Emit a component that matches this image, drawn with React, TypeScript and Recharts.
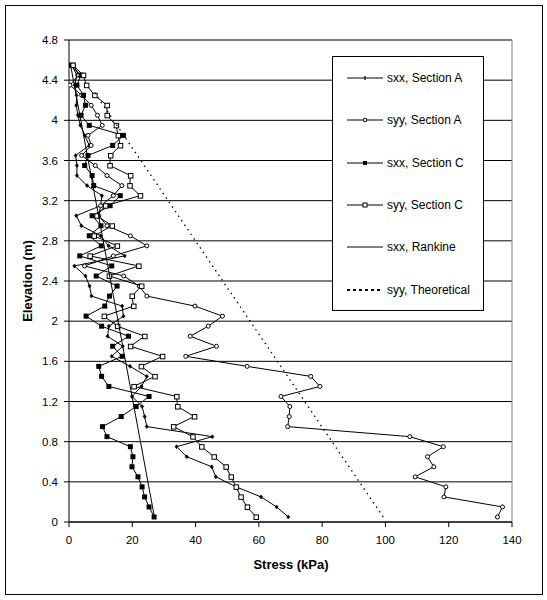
import React from "react";
import {
  ScatterChart,
  Scatter,
  XAxis,
  YAxis,
  CartesianGrid,
  ReferenceLine,
} from "recharts";

// Elevations (m) of the measurement points
const elevations = [
  0.05, 0.15, 0.25, 0.35, 0.45, 0.55, 0.65, 0.75, 0.85, 0.95,
  1.05, 1.15, 1.25, 1.35, 1.45, 1.55, 1.65, 1.75, 1.85, 1.95,
  2.05, 2.15, 2.25, 2.35, 2.45, 2.55, 2.65, 2.75, 2.85, 2.95,
  3.05, 3.15, 3.25, 3.35, 3.45, 3.55, 3.65, 3.75, 3.85, 3.95,
  4.05, 4.15, 4.25, 4.35, 4.45, 4.55,
];

// Stress (kPa) per series, bottom to top
const sxxSectionA = [
  69.3, 65.6, 60.7, 52.8, 46.4, 45.1, 37.2, 34.0, 45.3, 24.6,
  23.9, 23.1, 19.9, 22.9, 24.6, 19.3, 13.5, 17.0, 12.2, 12.6,
  17.2, 16.8, 7.1, 6.5, 5.2, 1.7, 17.6, 12.5, 10.0, 3.9,
  2.3, 10.0, 10.4, 5.7, 2.5, 2.5, 2.1, 6.4, 5.0, 3.6,
  2.8, 2.3, 2.4, 1.8, 2.5, 0.8,
];
const syySectionA = [
  135.4, 137.0, 118.5, 119.1, 109.4, 115.3, 113.3, 118.3, 107.7, 69.1,
  69.6, 69.8, 67.0, 79.3, 76.4, 56.3, 36.9, 46.6, 38.3, 44.0,
  48.5, 39.8, 24.6, 22.2, 17.3, 4.9, 14.0, 24.6, 19.4, 12.0,
  9.4, 10.0, 14.0, 16.7, 12.0, 8.3, 4.0, 7.0, 6.0, 10.5,
  9.0, 7.0, 4.0, 0.3, 3.0, 1.5,
];
const sxxSectionC = [
  26.9, 25.3, 23.9, 23.1, 21.8, 19.9, 20.2, 19.4, 12.0, 10.6,
  16.5, 21.2, 25.3, 12.6, 10.3, 9.4, 16.8, 13.8, 18.8, 10.3,
  5.4, 11.3, 12.8, 15.2, 8.6, 13.5, 3.4, 10.2, 6.4, 10.1,
  7.3, 13.0, 16.2, 7.8, 7.3, 4.95, 6.0, 13.8, 17.2, 6.4,
  3.8, 5.2, 4.6, 2.5, 3.8, 0.3,
];
const syySectionC = [
  59.1, 56.3, 54.3, 52.8, 51.2, 49.6, 45.8, 41.9, 39.1, 33.0,
  39.6, 34.3, 34.0, 20.5, 27.1, 22.8, 29.5, 19.4, 23.9, 15.3,
  11.1, 20.4, 19.9, 22.9, 12.7, 22.0, 6.6, 15.2, 7.9, 13.6,
  8.8, 11.5, 22.5, 19.2, 19.4, 12.9, 13.1, 16.2, 15.5, 14.9,
  12.0, 12.0, 8.1, 5.5, 4.5, 1.2,
];

const rankineStress = [27.0, 0.5];
const rankineElev = [0.05, 4.55];
const theoreticalStress = [99.3, 7.6];
const theoreticalElev = [0.05, 4.3];

const xTicks = [0, 20, 40, 60, 80, 100, 120, 140];
const yTicks = [0, 0.4, 0.8, 1.2, 1.6, 2, 2.4, 2.8, 3.2, 3.6, 4, 4.4, 4.8];

const seriesNames = [
  "sxx, Section A",
  "syy, Section A",
  "sxx, Section C",
  "syy, Section C",
  "sxx, Rankine",
  "syy, Theoretical",
];

const toPoints = (xs: number[], ys: number[]) =>
  xs.map((x, i) => ({ x, y: ys[i] }));

const dataSxxA = toPoints(sxxSectionA, elevations);
const dataSyyA = toPoints(syySectionA, elevations);
const dataSxxC = toPoints(sxxSectionC, elevations);
const dataSyyC = toPoints(syySectionC, elevations);
const dataRankine = toPoints(rankineStress, rankineElev);
const dataTheory = toPoints(theoreticalStress, theoreticalElev);

const FONT = "'Liberation Sans', Arial, sans-serif";

const DiamondMark = (p: any) => {
  const { cx, cy } = p;
  if (cx == null || cy == null) return <g />;
  return (
    <path
      d={`M${cx},${cy - 2} L${cx + 1.6},${cy} L${cx},${cy + 2} L${cx - 1.6},${cy} Z`}
      fill="#000"
      stroke="#000"
      strokeWidth={0.6}
    />
  );
};
const CircleMark = (p: any) => {
  const { cx, cy } = p;
  if (cx == null || cy == null) return <g />;
  return <circle cx={cx} cy={cy} r={2} fill="#fff" stroke="#000" strokeWidth={1} />;
};
const FilledSquare = (p: any) => {
  const { cx, cy } = p;
  if (cx == null || cy == null) return <g />;
  return <rect x={cx - 2.5} y={cy - 2.5} width={5} height={5} fill="#000" />;
};
const OpenSquare = (p: any) => {
  const { cx, cy } = p;
  if (cx == null || cy == null) return <g />;
  return (
    <rect x={cx - 2} y={cy - 2} width={4.5} height={4.5} fill="#fff" stroke="#000" strokeWidth={1} />
  );
};
const NoMark = () => <g />;

const LegendSample = ({ kind }: { kind: number }) => {
  const dotted = kind === 5;
  return (
    <svg width={38} height={10} style={{ display: "block" }}>
      <line
        x1={1}
        x2={37}
        y1={5}
        y2={5}
        stroke="#000"
        strokeWidth={dotted ? 2 : 1}
        strokeDasharray={dotted ? "3 3" : undefined}
      />
      {kind === 0 && <line x1={19} x2={19} y1={3} y2={7} stroke="#000" strokeWidth={1.2} />}
      {kind === 1 && <circle cx={19} cy={5} r={1.8} fill="#fff" stroke="#000" strokeWidth={1} />}
      {kind === 2 && <rect x={17} y={3} width={4} height={4} fill="#000" />}
      {kind === 3 && <rect x={17} y={3} width={4} height={4} fill="#fff" stroke="#000" strokeWidth={1} />}
    </svg>
  );
};

export default function App() {
  return (
    <div
      style={{
        position: "absolute",
        left: 0,
        top: 0,
        width: 547,
        height: 600,
        background: "#fff",
        fontFamily: FONT,
      }}
    >
      <div
        style={{
          position: "absolute",
          left: 5,
          top: 5,
          width: 538,
          height: 590,
          border: "1px solid #000",
          boxSizing: "border-box",
        }}
      />
      <div style={{ position: "absolute", left: 0, top: 0 }}>
        <ScatterChart
          width={547}
          height={600}
          margin={{ top: 40, right: 35, bottom: 0, left: 0 }}
        >
          <CartesianGrid vertical={false} stroke="#000" strokeWidth={1} />
          <XAxis
            type="number"
            dataKey="x"
            domain={[0, 140]}
            ticks={xTicks}
            interval={0}
            height={78}
            tickSize={5}
            tickMargin={9}
            axisLine={{ stroke: "#000" }}
            tickLine={{ stroke: "#000" }}
            tick={{ fill: "#000", fontSize: 11.5, fontFamily: FONT }}
            allowDataOverflow
          />
          <YAxis
            type="number"
            dataKey="y"
            domain={[0, 4.8]}
            ticks={yTicks}
            interval={0}
            width={69}
            tickSize={5}
            tickMargin={6}
            axisLine={{ stroke: "#000" }}
            tickLine={{ stroke: "#000" }}
            tick={{ fill: "#000", fontSize: 11.5, fontFamily: FONT }}
            allowDataOverflow
          />
          <ReferenceLine y={4.8} stroke="#808080" strokeWidth={1} />
          <ReferenceLine x={140} stroke="#808080" strokeWidth={1} />
          <Scatter
            name={seriesNames[0]}
            data={dataSxxA}
            line={{ stroke: "#000", strokeWidth: 1 }}
            shape={DiamondMark}
            isAnimationActive={false}
          />
          <Scatter
            name={seriesNames[1]}
            data={dataSyyA}
            line={{ stroke: "#000", strokeWidth: 1 }}
            shape={CircleMark}
            isAnimationActive={false}
          />
          <Scatter
            name={seriesNames[2]}
            data={dataSxxC}
            line={{ stroke: "#000", strokeWidth: 1 }}
            shape={FilledSquare}
            isAnimationActive={false}
          />
          <Scatter
            name={seriesNames[3]}
            data={dataSyyC}
            line={{ stroke: "#000", strokeWidth: 1 }}
            shape={OpenSquare}
            isAnimationActive={false}
          />
          <Scatter
            name={seriesNames[4]}
            data={dataRankine}
            line={{ stroke: "#000", strokeWidth: 1 }}
            shape={NoMark}
            isAnimationActive={false}
          />
          <Scatter
            name={seriesNames[5]}
            data={dataTheory}
            line={{ stroke: "#000", strokeWidth: 1.3, strokeDasharray: "1.5 4" }}
            shape={NoMark}
            isAnimationActive={false}
          />
        </ScatterChart>
      </div>

      {/* Axis titles */}
      <div
        style={{
          position: "absolute",
          left: 191,
          top: 557,
          width: 200,
          textAlign: "center",
          fontWeight: "bold",
          fontSize: 13,
          lineHeight: "15px",
          color: "#000",
        }}
      >
        Stress (kPa)
      </div>
      <div
        style={{
          position: "absolute",
          left: 28 - 100,
          top: 281 - 8,
          width: 200,
          height: 16,
          textAlign: "center",
          fontWeight: "bold",
          fontSize: 13,
          lineHeight: "16px",
          color: "#000",
          transform: "rotate(-90deg)",
          transformOrigin: "100px 8px",
        }}
      >
        Elevation (m)
      </div>

      {/* Legend */}
      <div
        style={{
          position: "absolute",
          left: 332,
          top: 56,
          width: 152,
          height: 255,
          border: "1px solid #000",
          boxSizing: "border-box",
          background: "#fff",
        }}
      >
        {seriesNames.map((name, i) => (
          <div
            key={name}
            style={{
              position: "absolute",
              left: 13,
              top: 13 + i * 42.3,
              height: 16,
              display: "flex",
              alignItems: "center",
              whiteSpace: "nowrap",
            }}
          >
            <LegendSample kind={i} />
            <span style={{ marginLeft: 3, fontSize: 12, color: "#000" }}>{name}</span>
          </div>
        ))}
      </div>
    </div>
  );
}
